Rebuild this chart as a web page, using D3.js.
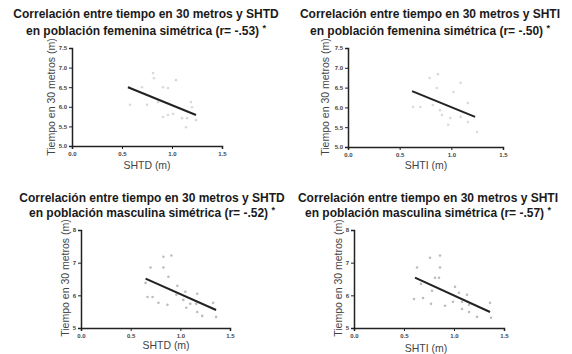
<!DOCTYPE html>
<html>
<head>
<meta charset="utf-8">
<script src="https://cdn.jsdelivr.net/npm/d3@7/dist/d3.min.js"></script>
<style>
  body { margin: 0; background: #fff; }
  svg { display: block; font-family: "Liberation Sans", Arial, sans-serif; }
</style>
</head>
<body>
<svg id="chart" width="572" height="354"></svg>
<script>
const titleLine1 = [
  'Correlación entre tiempo en 30 metros y SHTD',
  'Correlación entre tiempo en 30 metros y SHTI',
  'Correlación entre tiempo en 30 metros y SHTD',
  'Correlación entre tiempo en 30 metros y SHTI'
];
const titleLine2 = [
  'en población femenina simétrica (r= -.53)',
  'en población femenina simétrica (r= -.50)',
  'en población masculina simétrica (r= -.52)',
  'en población masculina simétrica (r= -.57)'
];
const xLabels = ['SHTD (m)', 'SHTI (m)', 'SHTD (m)', 'SHTI (m)'];
const yLabel = 'Tiempo en 30 metros (m)';
const xTicks = [0, 0.5, 1, 1.5];
const yTicksFem = [5, 5.5, 6, 6.5, 7, 7.5];
const yTicksMasc = [5, 6, 7, 8];

// femenina SHTD
const femShtdX = [0.81, 0.82, 1.04, 0.57, 0.70, 0.91, 0.96, 0.58, 0.75, 0.86, 1.19, 1.20, 0.91, 0.96, 1.01, 1.10, 1.15, 1.24, 1.14];
const femShtdY = [6.86, 6.73, 6.68, 6.50, 6.50, 6.50, 6.48, 6.05, 6.05, 6.12, 6.12, 5.99, 5.74, 5.79, 5.82, 5.71, 5.71, 5.66, 5.48];
// femenina SHTI
const femShtiX = [0.79, 0.87, 0.86, 1.02, 1.09, 0.63, 0.70, 0.82, 1.16, 0.89, 0.91, 0.99, 1.09, 1.16, 0.97, 1.25];
const femShtiY = [6.74, 6.84, 6.49, 6.39, 6.62, 6.01, 6.01, 6.06, 6.11, 5.93, 5.81, 5.73, 5.76, 5.63, 5.56, 5.38];
// masculina SHTD
const mascShtdX = [0.83, 0.91, 0.70, 0.83, 0.88, 0.65, 0.67, 0.72, 0.78, 0.87, 0.97, 1.05, 1.17, 0.96, 1.03, 1.10, 1.16, 1.06, 1.17, 1.22, 1.33, 1.36];
const mascShtdY = [7.18, 7.22, 6.85, 6.85, 6.57, 6.38, 5.95, 5.95, 5.77, 5.71, 6.29, 6.11, 6.05, 6.02, 5.86, 5.74, 5.74, 5.62, 5.49, 5.37, 5.77, 5.34];
// masculina SHTI
const mascShtiX = [0.76, 0.86, 0.63, 0.86, 0.81, 0.85, 0.67, 0.78, 0.60, 0.69, 0.77, 0.91, 1.01, 1.05, 1.13, 0.99, 1.08, 1.15, 1.08, 1.15, 1.23, 1.36, 1.37];
const mascShtiY = [7.15, 7.22, 6.85, 6.85, 6.54, 6.54, 6.35, 6.14, 5.89, 5.92, 5.74, 5.68, 6.26, 6.08, 6.02, 5.80, 5.80, 5.71, 5.58, 5.49, 5.34, 5.77, 5.31];

// regression line end points
const fitX = [[0.56, 1.24], [0.62, 1.23], [0.65, 1.36], [0.61, 1.36]];
const fitY = [[6.50, 5.79], [6.41, 5.76], [6.51, 5.55], [6.54, 5.49]];

const pointsX = [femShtdX, femShtiX, mascShtdX, mascShtiX];
const pointsY = [femShtdY, femShtiY, mascShtdY, mascShtiY];

const svg = d3.select('#chart');

const layout = [
  { cx: 146, t1: 15, t2: 32, left: 72, right: 222, bottom: 146, top: 48, ylx: 52, yly: 97, xlx: 147, xly: 166, yTicks: yTicksFem, dot: '#dadada' },
  { cx: 430, t1: 15, t2: 32, left: 348, right: 503, bottom: 147, top: 48, ylx: 326, yly: 97, xlx: 426, xly: 166, yTicks: yTicksFem, dot: '#dadada' },
  { cx: 152, t1: 199, t2: 214, left: 81, right: 230, bottom: 328, top: 230, ylx: 66, yly: 278, xlx: 166, xly: 346, yTicks: yTicksMasc, dot: '#bdbdbd' },
  { cx: 428, t1: 199, t2: 214, left: 354, right: 504, bottom: 328, top: 230, ylx: 339, yly: 278, xlx: 426, xly: 349, yTicks: yTicksMasc, dot: '#bdbdbd' }
];

layout.forEach((p, i) => {
  const g = svg.append('g');
  const yMax = d3.max(p.yTicks);
  const x = d3.scaleLinear().domain([0, 1.5]).range([p.left, p.right]);
  const y = d3.scaleLinear().domain([5, yMax]).range([p.bottom, p.top]);
  const fem = i < 2;

  // title
  g.append('text')
    .attr('x', p.cx).attr('y', p.t1)
    .attr('text-anchor', 'middle').attr('dominant-baseline', 'middle')
    .attr('font-size', '12px').attr('font-weight', 'bold').attr('fill', '#1a1a1a')
    .text(titleLine1[i]);
  const t2 = g.append('text')
    .attr('x', p.cx).attr('y', p.t2)
    .attr('text-anchor', 'middle').attr('dominant-baseline', 'middle')
    .attr('font-size', '12px').attr('font-weight', 'bold').attr('fill', '#1a1a1a');
  t2.append('tspan').text(titleLine2[i] + ' ');
  t2.append('tspan').attr('font-size', '9px').attr('dy', -3).text('*');

  // axes
  const yAxis = d3.axisLeft(y).tickValues(p.yTicks).tickSize(3).tickPadding(2)
    .tickFormat(fem ? d3.format('.1f') : d3.format('d'));
  const xAxis = d3.axisBottom(x).tickValues(xTicks).tickSize(3).tickPadding(3)
    .tickFormat(d3.format('.1f'));

  const ya = g.append('g').attr('transform', `translate(${p.left},0)`).call(yAxis);
  const xa = g.append('g').attr('transform', `translate(0,${p.bottom})`).call(xAxis);
  [ya, xa].forEach(a => {
    a.select('.domain').attr('stroke', '#222').attr('stroke-width', 1.5);
    a.selectAll('.tick line').attr('stroke', '#222').attr('stroke-width', 1);
    a.selectAll('.tick text')
      .attr('font-size', '6px').attr('font-weight', 'bold').attr('fill', '#444')
      .attr('font-family', '"Liberation Sans", Arial, sans-serif');
  });

  // axis labels
  g.append('text')
    .attr('transform', `translate(${p.ylx},${p.yly}) rotate(-90)`)
    .attr('text-anchor', 'middle').attr('dominant-baseline', 'middle')
    .attr('font-size', '10.5px').attr('fill', '#444')
    .text(yLabel);
  g.append('text')
    .attr('x', p.xlx).attr('y', p.xly)
    .attr('text-anchor', 'middle').attr('dominant-baseline', 'middle')
    .attr('font-size', '10.5px').attr('fill', '#444')
    .text(xLabels[i]);

  // points
  g.append('g').selectAll('circle')
    .data(pointsX[i].map((v, k) => [v, pointsY[i][k]]))
    .join('circle')
    .attr('cx', d => x(d[0]))
    .attr('cy', d => y(d[1]))
    .attr('r', 1.3)
    .attr('fill', p.dot);

  // regression line
  g.append('line')
    .attr('x1', x(fitX[i][0])).attr('y1', y(fitY[i][0]))
    .attr('x2', x(fitX[i][1])).attr('y2', y(fitY[i][1]))
    .attr('stroke', '#222').attr('stroke-width', 2);
});
</script>
</body>
</html>
